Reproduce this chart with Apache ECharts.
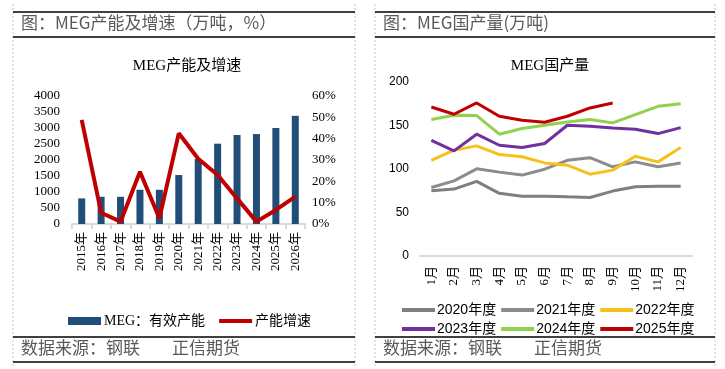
<!DOCTYPE html>
<html><head><meta charset="utf-8">
<script src="https://cdn.jsdelivr.net/npm/echarts@6/dist/echarts.min.js"></script>
<style>html,body{margin:0;padding:0;background:#fff}#c{width:725px;height:369px}</style>
</head><body><div id="c"></div>
<script>
const years = ['2015年','2016年','2017年','2018年','2019年','2020年','2021年','2022年','2023年','2024年','2025年','2026年'];
const capacity = [800, 850, 850, 1070, 1070, 1530, 2030, 2510, 2780, 2810, 3000, 3380];
const growth = [48.8, 5.3, 1.1, 24.5, 2.7, 42.5, 30.6, 23.0, 12.0, 1.1, 6.6, 12.8];
const capTicksLeft = [0, 4000, 500];
const growthTicks = [0, 60, 10];

const months = ['1月','2月','3月','4月','5月','6月','7月','8月','9月','10月','11月','12月'];
const y2020 = [75, 76.9, 85.7, 72, 68.8, 68.8, 68, 67.3, 74.6, 79.5, 80.3, 80.3];
const y2021 = [78.8, 86.4, 100.2, 96.4, 93, 99.8, 110, 113, 102.5, 108.2, 102.5, 107];
const y2022 = [110, 121.6, 126.6, 116.6, 114, 107, 104.4, 94, 98.7, 114.7, 108.2, 124.7];
const y2023 = [133, 120.8, 140, 127.3, 124.7, 129.3, 150.3, 149, 147, 145.7, 140.7, 147.6];
const y2024 = [156.8, 161.8, 161.4, 140, 146.5, 150.3, 154, 156.8, 153, 162.5, 172, 175.1];
const y2025 = [171.3, 162.9, 175.9, 160.6, 156, 153.7, 160.6, 170.2, 175.9];
const prodTicks = [0, 200, 50];

const CJK = '"Liberation Serif","Noto Sans CJK SC",serif';
const SANS = '"Liberation Sans","Noto Sans CJK SC",sans-serif';
const LINE_ICON = 'path://M0,0 L33,0 L33,4 L0,4 Z';
const chart = echarts.init(document.getElementById('c'));

function hline(x1, x2, y, w) {
  return {type:'line', shape:{x1:x1,y1:y,x2:x2,y2:y}, style:{stroke:'#000', lineWidth:w}, silent:true};
}
function vdot(x, y1, y2) {
  return {type:'line', shape:{x1:x,y1:y1,x2:x,y2:y2}, style:{stroke:'#c8c8c8', lineWidth:1, lineDash:[2,2]}, silent:true};
}
function txt(x, y, s, size, color) {
  return {type:'text', left:x, top:y, style:{text:s, font: size + 'px "Noto Sans CJK SC"', fill:color}, silent:true};
}

const lineColors = ['#7f7f7f','#8c8c8c','#f5c21b','#7030a0','#92d050','#c00000'];
const lineData = [y2020, y2021, y2022, y2023, y2024, y2025];
const lineNames = ['2020年度','2021年度','2022年度','2023年度','2024年度','2025年度'];

const option = {
  animation:false,
  backgroundColor:'#fff',
  title:[
    {text:'MEG产能及增速', left:182, top:54, textAlign:'center', textStyle:{fontSize:15, fontWeight:'normal', color:'#000', fontFamily:CJK}},
    {text:'MEG国产量', left:545, top:54, textAlign:'center', textStyle:{fontSize:15, fontWeight:'normal', color:'#000', fontFamily:CJK}}
  ],
  grid:[
    {left:72, right:420, top:96, bottom:145, containLabel:false},
    {left:420, right:33, top:82, bottom:113, containLabel:false}
  ],
  xAxis:[
    {type:'category', gridIndex:0, data:years, boundaryGap:true,
     axisLine:{lineStyle:{color:'#d9d9d9', width:2}},
     axisTick:{show:true, length:5, lineStyle:{color:'#d9d9d9', width:2}},
     axisLabel:{rotate:90, margin:8, fontSize:13, color:'#000', fontFamily:CJK}},
    {type:'category', gridIndex:1, data:months, boundaryGap:true,
     axisLine:{lineStyle:{color:'#d9d9d9', width:2}},
     axisTick:{show:false},
     axisLabel:{rotate:90, margin:10, fontSize:13, color:'#000', fontFamily:CJK}}
  ],
  yAxis:[
    {type:'value', gridIndex:0, min:capTicksLeft[0], max:capTicksLeft[1], interval:capTicksLeft[2],
     splitLine:{show:false}, axisLine:{show:false}, axisTick:{show:false},
     axisLabel:{margin:12, fontSize:13, color:'#000', fontFamily:CJK, formatter:v=>String(v)}},
    {type:'value', gridIndex:0, position:'right', min:growthTicks[0], max:growthTicks[1], interval:growthTicks[2],
     splitLine:{show:false}, axisLine:{show:false}, axisTick:{show:false},
     axisLabel:{margin:7, fontSize:13, color:'#000', fontFamily:CJK, formatter:'{value}%'}},
    {type:'value', gridIndex:1, min:prodTicks[0], max:prodTicks[1], interval:prodTicks[2],
     splitLine:{show:false}, axisLine:{show:false}, axisTick:{show:false},
     axisLabel:{margin:11, fontSize:12, color:'#000', fontFamily:SANS}}
  ],
  legend:[
    {left:63, top:309, itemWidth:33, itemHeight:8, itemGap:14,
     textStyle:{fontSize:14, color:'#000', fontFamily:CJK, padding:[0,0,0,-2]},
     data:[{name:'MEG：有效产能', icon:'rect'}, {name:'产能增速', icon:LINE_ICON}]},
    {left:397, top:298, width:320, itemWidth:33, itemHeight:8, itemGap:5,
     textStyle:{fontSize:14, color:'#000', fontFamily:SANS, padding:[0,0,0,-3]},
     data:lineNames.map(n=>({name:n, icon:LINE_ICON}))}
  ],
  series:[
    {name:'MEG：有效产能', type:'bar', xAxisIndex:0, yAxisIndex:0, data:capacity, barWidth:7,
     itemStyle:{color:'#1f4e79'}},
    {name:'产能增速', type:'line', xAxisIndex:0, yAxisIndex:1, data:growth, symbol:'none',
     lineStyle:{color:'#c00000', width:4}, itemStyle:{color:'#c00000'}}
  ].concat(lineData.map((d,i)=>({
     name:lineNames[i], type:'line', xAxisIndex:1, yAxisIndex:2, data:d, symbol:'none',
     lineStyle:{color:lineColors[i], width:3}, itemStyle:{color:lineColors[i]}}))),
  graphic:[
    vdot(13, 4, 366), vdot(355, 4, 366), vdot(375, 4, 366), vdot(715, 4, 366),
    hline(13, 355, 12, 1.5), hline(13, 355, 37, 1.5), hline(13, 355, 337, 1.5), hline(13, 355, 362, 1.5),
    hline(375, 715, 12, 1.5), hline(375, 715, 37, 1.5), hline(375, 715, 337, 1.5), hline(375, 715, 362, 1.5),
    txt(21, 14, '图：MEG产能及增速（万吨，%）', 17, '#595959'),
    txt(383, 14, '图：MEG国产量(万吨)', 17, '#595959'),
    txt(21, 339, '数据来源：钢联', 17, '#595959'),
    txt(172, 339, '正信期货', 17, '#595959'),
    txt(383, 339, '数据来源：钢联', 17, '#595959'),
    txt(534, 339, '正信期货', 17, '#595959')
  ]
};
chart.setOption(option);
</script>
</body></html>
